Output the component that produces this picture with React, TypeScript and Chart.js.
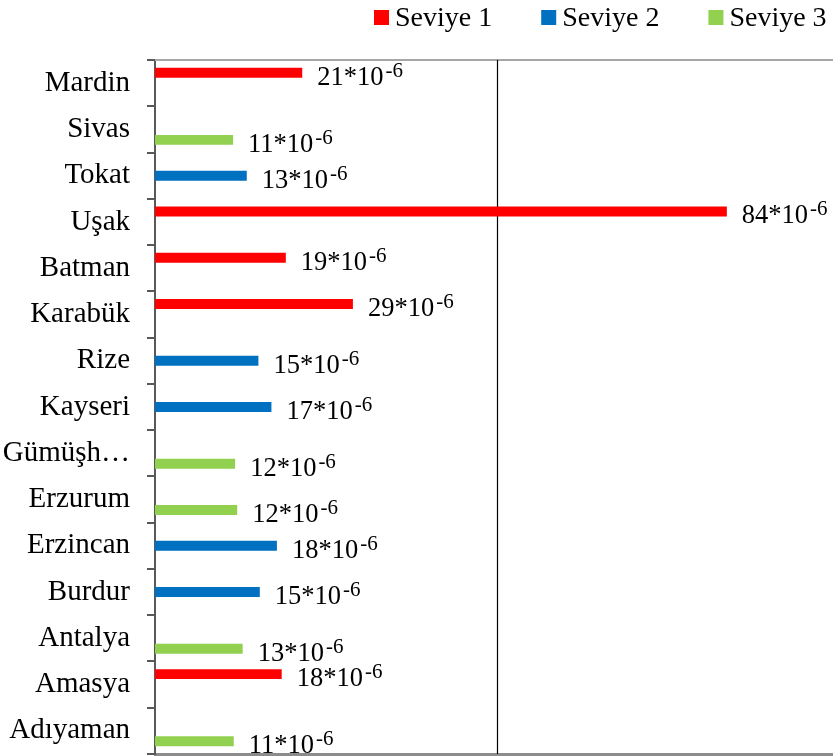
import React, { useEffect, useRef } from "react";
import { Chart, registerables } from "chart.js";

Chart.register(...registerables);

const categories = [
  "Mardin", "Sivas", "Tokat", "Uşak", "Batman", "Karabük", "Rize", "Kayseri",
  "Gümüşh…", "Erzurum", "Erzincan", "Burdur", "Antalya", "Amasya", "Adıyaman",
];
const seviye1 = [21.5, null, null, 83.5, 19.1, 28.9, null, null, null, null, null, null, null, 18.5, null];
const seviye2 = [null, null, 13.4, null, null, null, 15.1, 17.0, null, null, 17.8, 15.3, null, null, null];
const seviye3 = [null, 11.4, null, null, null, null, null, null, 11.7, 12.0, null, null, 12.8, null, 11.5];
const labelValues = [21, 11, 13, 84, 19, 29, 15, 17, 12, 12, 18, 15, 13, 18, 11];
const gridValues = [50];
const seriesNames = ["Seviye 1", "Seviye 2", "Seviye 3"];
const seriesColors = ["#FF0000", "#0070C0", "#92D050"];

const FONT = "'Liberation Serif', 'Times New Roman', serif";

const legendPlugin = {
  id: "customLegend",
  afterDraw(chart: any) {
    const ctx = chart.ctx;
    ctx.save();
    ctx.font = `28px ${FONT}`;
    ctx.textBaseline = "alphabetic";
    let x = 374;
    chart.data.datasets.forEach((ds: any) => {
      ctx.fillStyle = ds.backgroundColor;
      ctx.fillRect(x, 10, 15, 15);
      ctx.fillStyle = "#000";
      ctx.fillText(ds.label, x + 21, 26);
      x += 21 + ctx.measureText(ds.label).width + 49;
    });
    ctx.restore();
  },
};

const frameAndLabels = {
  id: "frameAndLabels",
  beforeDatasetsDraw(chart: any) {
    const { ctx, chartArea, scales } = chart;
    ctx.save();
    ctx.strokeStyle = "#a6a6a6";
    ctx.lineWidth = 2;
    ctx.beginPath();
    ctx.moveTo(chartArea.left, chartArea.top);
    ctx.lineTo(chartArea.right, chartArea.top);
    ctx.stroke();
    ctx.strokeStyle = "#000";
    ctx.lineWidth = 1.2;
    gridValues.forEach((v) => {
      const px = Math.round(scales.x.getPixelForValue(v)) + 0.5;
      ctx.beginPath();
      ctx.moveTo(px, chartArea.top);
      ctx.lineTo(px, chartArea.bottom);
      ctx.stroke();
    });
    ctx.restore();
  },
  afterDatasetsDraw(chart: any) {
    const ctx = chart.ctx;
    ctx.save();
    ctx.fillStyle = "#000";
    ctx.textBaseline = "alphabetic";
    chart.data.datasets.forEach((ds: any, di: number) => {
      const meta = chart.getDatasetMeta(di);
      meta.data.forEach((el: any, i: number) => {
        if (ds.data[i] === null || ds.data[i] === undefined) return;
        const x = el.x + 15;
        const y = el.y + 12;
        const main = `${labelValues[i]}*10`;
        ctx.font = `26.5px ${FONT}`;
        ctx.fillText(main, x, y);
        const w = ctx.measureText(main).width;
        ctx.font = `21px ${FONT}`;
        ctx.fillText("-6", x + w + 2, y - 8);
      });
    });
    ctx.restore();
  },
};

export default function App() {
  const ref = useRef<HTMLCanvasElement>(null);
  useEffect(() => {
    if (!ref.current) return;
    const chart = new Chart(ref.current, {
      type: "bar",
      data: {
        labels: categories,
        datasets: [seviye1, seviye2, seviye3].map((d, k) => ({
          label: seriesNames[k],
          data: d,
          backgroundColor: seriesColors[k],
          categoryPercentage: 0.68,
          barPercentage: 0.95,
        })),
      },
      options: {
        indexAxis: "y",
        animation: false,
        responsive: false,
        devicePixelRatio: 1,
        layout: { padding: { top: 60, bottom: 2, left: 0, right: 0 } },
        plugins: {
          legend: { display: false },
          tooltip: { enabled: false },
        },
        scales: {
          x: {
            min: 0,
            max: 99,
            ticks: { display: false, stepSize: 50 },
            grid: { display: false, drawTicks: false },
            border: { display: true, color: "#8c8c8c", width: 3 },
            afterFit: (s: any) => { s.height = 0; s.paddingLeft = 0; s.paddingRight = 0; },
          },
          y: {
            ticks: {
              autoSkip: false,
              color: "#000",
              padding: 17,
              font: { family: FONT, size: 29 },
            },
            grid: {
              drawOnChartArea: false,
              drawTicks: true,
              tickLength: 8,
              color: "#595959",
              lineWidth: 2,
              offset: true,
            },
            border: { display: true, color: "#595959", width: 2 },
            afterFit: (s: any) => { s.width = 155; s.paddingTop = 0; s.paddingBottom = 0; },
          },
        },
      },
      plugins: [frameAndLabels, legendPlugin],
    });
    return () => chart.destroy();
  }, []);
  return (
    <div style={{ position: "fixed", left: 0, top: 0, width: 833, height: 756, background: "#fff" }}>
      <canvas ref={ref} width={833} height={756} />
    </div>
  );
}
